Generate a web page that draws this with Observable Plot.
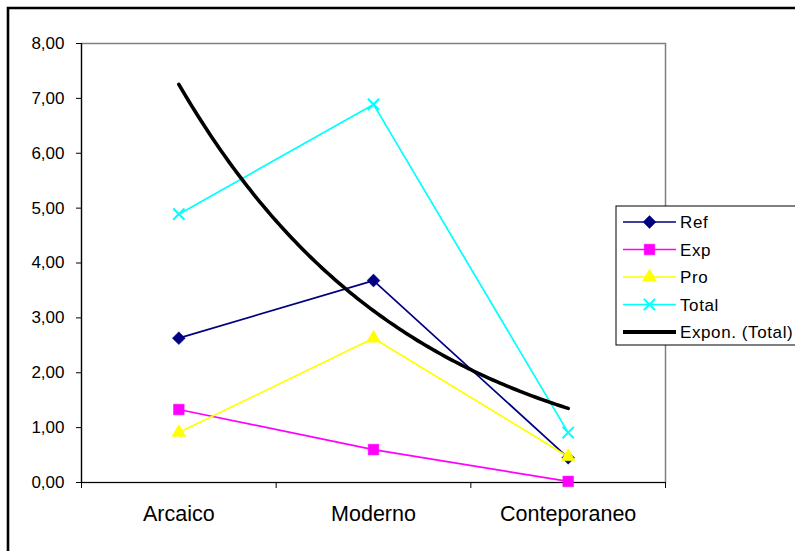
<!DOCTYPE html>
<html><head><meta charset="utf-8">
<script src="https://cdn.jsdelivr.net/npm/d3@7"></script>
<script src="https://cdn.jsdelivr.net/npm/@observablehq/plot@0.6"></script>
<style>
body{margin:0;background:#fff;}
#chart svg{font-family:"Liberation Sans",Arial,sans-serif;color:#000;background:#fff;}
</style>
</head><body><div id="chart"></div>
<script>
// ---- data ----
const categories = ["Arcaico", "Moderno", "Conteporaneo"];
const refValues = [2.63, 3.68, 0.45];
const expValues = [1.33, 0.60, 0.02];
const proValues = [0.91, 2.63, 0.47];
const totalValues = [4.89, 6.89, 0.91];
const seriesNames = ["Ref", "Exp", "Pro", "Total"];
const trendName = "Expon. (Total)";
const yTickValues = [0, 1, 2, 3, 4, 5, 6, 7, 8];

// ---- styling ----
const style = {
  Ref:   {color: "#000080", symbol: "diamond2", d3sym: d3.symbolDiamond2, r: 5.8, fill: true},
  Exp:   {color: "#FF00FF", symbol: "square",   d3sym: d3.symbolSquare,   r: 6.0, fill: true},
  Pro:   {color: "#FFFF00", symbol: "triangle", d3sym: d3.symbolTriangle, r: 5.2, fill: true},
  Total: {color: "#00FFFF", symbol: "times",    d3sym: d3.symbolTimes,    r: 5.2, fill: false}
};

const valuesByName = {Ref: refValues, Exp: expValues, Pro: proValues, Total: totalValues};
const xIndex = categories.map((_, i) => i + 1);
const rows = seriesNames.map(name =>
  valuesByName[name].map((v, i) => ({series: name, x: xIndex[i], y: v})));

// exponential trend line (least squares on ln(y)), as Excel does
const lnY = totalValues.map(Math.log);
const mx = d3.mean(xIndex), my = d3.mean(lnY);
const b = d3.sum(xIndex, (x, i) => (x - mx) * (lnY[i] - my)) / d3.sum(xIndex, x => (x - mx) ** 2);
const a = Math.exp(my - b * mx);
const trend = d3.range(0, 121).map(k => {
  const x = xIndex[0] + (xIndex[xIndex.length - 1] - xIndex[0]) * k / 120;
  return {x, y: a * Math.exp(b * x)};
});

const n = categories.length;
const bounds = d3.range(0, n + 1).map(i => i + 0.5);

const marks = [
  Plot.frame({stroke: "#808080", strokeWidth: 1.5}),
  Plot.ruleX([bounds[0]], {stroke: "#000", strokeWidth: 1.2}),
  Plot.ruleY([0], {stroke: "#000", strokeWidth: 1.2}),
  Plot.axisY({ticks: yTickValues, tickFormat: d => d.toFixed(2).replace(".", ","),
              tickSize: 5, tickPadding: 12, fontSize: 17, label: null}),
  Plot.axisX({ticks: bounds, tickFormat: () => "", tickSize: 6, label: null}),
  Plot.axisX({ticks: xIndex, tickFormat: i => categories[i - 1], tickSize: 0,
              tickPadding: 23, fontSize: 21.5, label: null})
];
for (let k = 0; k < seriesNames.length; k++) {
  const name = seriesNames[k], s = style[name];
  marks.push(Plot.line(rows[k], {x: "x", y: "y", stroke: s.color, strokeWidth: 1.7}));
  marks.push(Plot.dot(rows[k], {x: "x", y: "y", symbol: () => s.symbol, r: s.r,
    fill: s.fill ? s.color : "none", stroke: s.color, strokeWidth: s.fill ? 0.5 : 2}));
}
marks.push(Plot.line(trend, {x: "x", y: "y", stroke: "#000", strokeWidth: 3.6}));

const chart = Plot.plot({
  width: 795, height: 551,
  marginLeft: 81, marginRight: 130, marginTop: 43, marginBottom: 69,
  x: {domain: [bounds[0], bounds[n]]},
  y: {domain: [0, 8]},
  style: {color: "#000", background: "#fff"},
  marks
});
document.getElementById("chart").appendChild(chart);

// ---- outer frame and legend ----
const svg = d3.select(chart);
svg.append("path").attr("d", "M8,560V8H800").attr("fill", "none")
  .attr("stroke", "#000").attr("stroke-width", 2.6);

const lg = svg.append("g").attr("text-anchor", "start");
const lgX = 616, lgY = 206, lgH = 139;
lg.append("rect").attr("x", lgX).attr("y", lgY).attr("width", 190).attr("height", lgH)
  .attr("fill", "#fff").attr("stroke", "#000").attr("stroke-width", 1);
const entries = seriesNames.concat([trendName]);
entries.forEach((name, i) => {
  const cy = 222 + i * 27.5;
  const s = style[name];
  const g = lg.append("g");
  g.append("line").attr("x1", 623).attr("x2", 676).attr("y1", cy).attr("y2", cy)
    .attr("stroke", s ? s.color : "#000").attr("stroke-width", s ? 1.7 : 4);
  if (s) {
    g.append("path").attr("transform", `translate(649.5,${cy})`)
      .attr("d", d3.symbol(s.d3sym, Math.PI * s.r * s.r)())
      .attr("fill", s.fill ? s.color : "none").attr("stroke", s.color)
      .attr("stroke-width", s.fill ? 0.5 : 2);
  }
  g.append("text").attr("x", 680).attr("y", cy).attr("dy", "0.36em")
    .attr("text-anchor", "start")
    .attr("font-size", 17).attr("letter-spacing", "0.6px").attr("fill", "#000").text(name);
});
</script>
</body></html>
